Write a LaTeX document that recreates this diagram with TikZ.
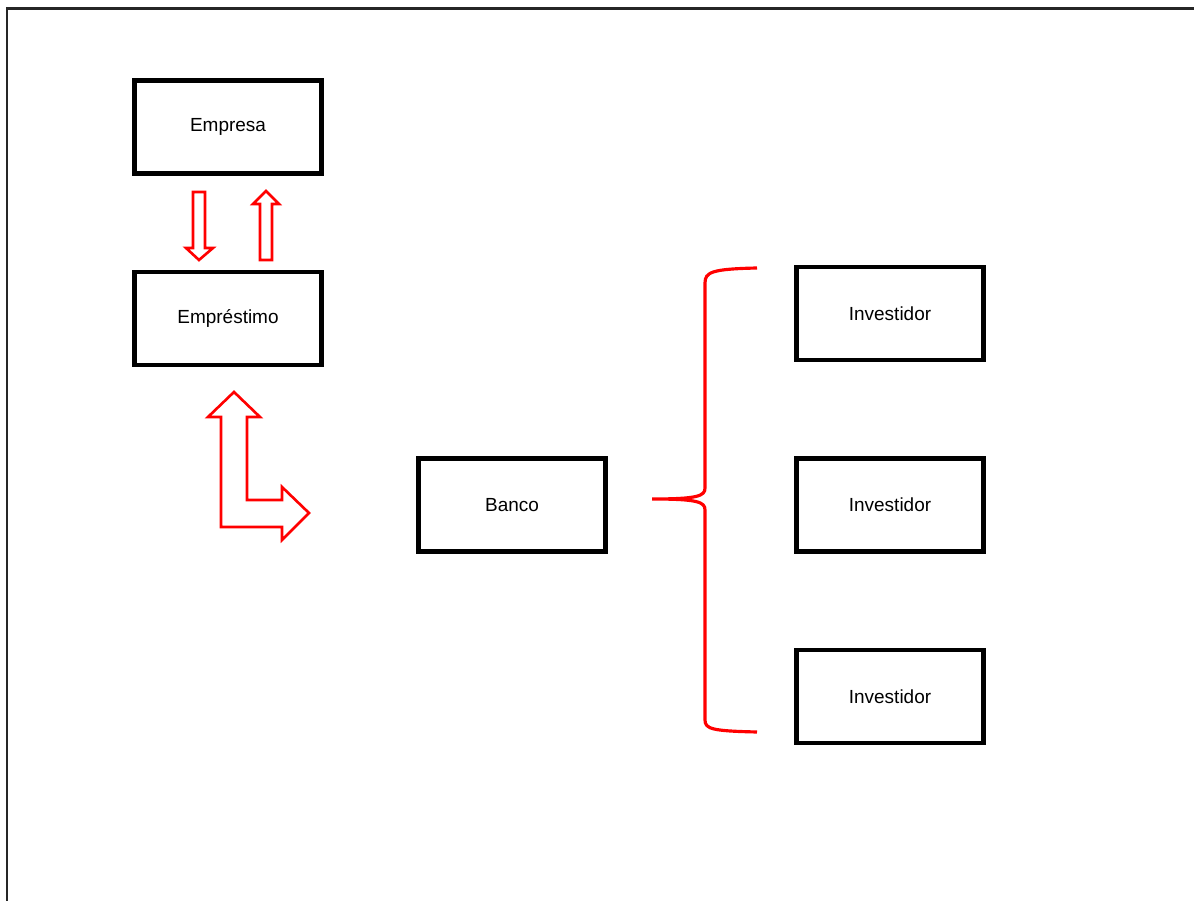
\documentclass[tikz,border=0pt]{standalone}
\usepackage{fontspec}
\setmainfont{Liberation Sans}
\usetikzlibrary{positioning}

\begin{document}
\begin{tikzpicture}[
    x=0.02cm, y=-0.02cm,
    node distance=1.88cm,
    caixa/.style={draw, line width=2.6pt, minimum width=3.74cm, minimum height=1.86cm,
      font=\fontsize{10.8}{12}\selectfont},
    seta/.style={draw=red, line width=1.5pt, fill=white, line join=miter},
    chave/.style={draw=red, line width=1.8pt}
  ]
  \useasboundingbox (0,0) rectangle (1194,901);
  \draw[line width=1.7pt, black!85] (7,901) -- (7,9) -- (1194,9);

  \node[caixa] (empresa) at (228,127) {Empresa};
  \node[caixa, below=of empresa] (emprestimo) {Empréstimo};
  \node[caixa] (banco) at (512,505) {Banco};
  \node[caixa] (inv2) at (890,505) {Investidor};
  \node[caixa, above=of inv2] (inv1) {Investidor};
  \node[caixa, below=of inv2] (inv3) {Investidor};

  % setas entre empresa e emprestimo
  \draw[seta] (193,192) -- (205,192) -- (205,248) -- (213,248) -- (199,260)
    -- (186,248) -- (193,248) -- cycle;
  \draw[seta] (260,260) -- (272,260) -- (272,204) -- (279,204) -- (266,191)
    -- (253,204) -- (260,204) -- cycle;

  % seta em L
  \draw[seta] (234,392) -- (260,417) -- (247,417) -- (247,500) -- (282,500)
    -- (282,487) -- (309,513) -- (282,540) -- (282,527) -- (221,527)
    -- (221,417) -- (208,417) -- cycle;

  % chave para os investidores
  \draw[chave] (757,268) .. controls (712,269) and (705,272) .. (705,283)
    -- (705,488) .. controls (705,496) and (698,499) .. (652,499)
    .. controls (698,499) and (705,502) .. (705,510)
    -- (705,720) .. controls (705,729) and (712,731) .. (757,732);
\end{tikzpicture}
\end{document}
